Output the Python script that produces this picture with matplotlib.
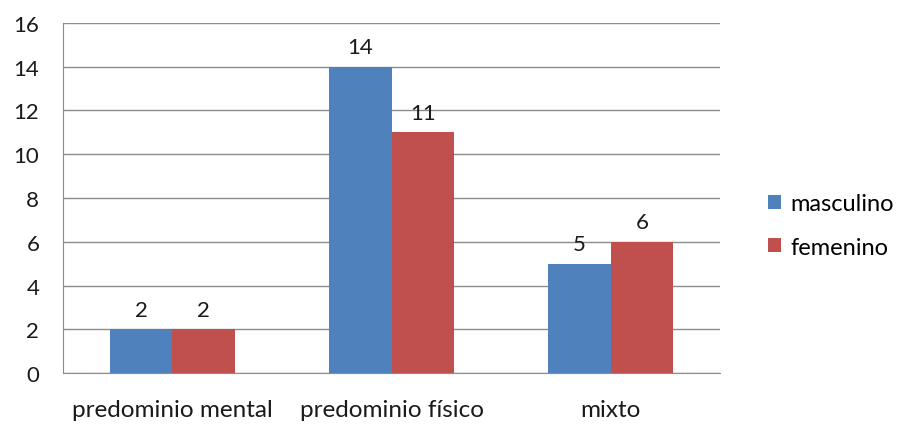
import numpy as np
import matplotlib
matplotlib.use("Agg")
from matplotlib import pyplot as plt

categories = ["predominio mental", "predominio físico", "mixto"]
masculino = [2, 14, 5]
femenino = [2, 11, 6]

plt.rcParams['font.family'] = ['Lato', 'DejaVu Sans']

fig = plt.figure(figsize=(8.99, 4.27), dpi=100)
ax = fig.add_axes([0.070, 0.124, 0.731, 0.820])

x = np.arange(len(categories))
w = 0.286
b1 = ax.bar(x - w / 2, masculino, w, color="#4F81BD", label="masculino", zorder=3)
b2 = ax.bar(x + w / 2, femenino, w, color="#C0504D", label="femenino", zorder=3)

for bars in (b1, b2):
    for rect in bars:
        ax.annotate(f"{rect.get_height():g}",
                    (rect.get_x() + rect.get_width() / 2, rect.get_height()),
                    xytext=(0, 7), textcoords="offset points",
                    ha="center", va="bottom", fontsize=16, color="#1a1a1a")

ax.set_xlim(-0.5, 2.5)
ax.set_ylim(0, 16)
ax.set_yticks(range(0, 17, 2))
ax.set_xticks(x)
ax.set_xticklabels(categories)
ax.grid(axis="y", color="#8c8c8c", linewidth=1, zorder=0)
ax.tick_params(length=0, colors="#1a1a1a")
ax.tick_params(axis="x", pad=19, labelsize=17.5)
ax.tick_params(axis="y", pad=17, labelsize=16)
for side in ("top", "right"):
    ax.spines[side].set_visible(False)
for side in ("left", "bottom"):
    ax.spines[side].set_color("#8c8c8c")

fig.legend(handles=[b1, b2], loc="center left", bbox_to_anchor=(0.831, 0.470),
           frameon=False, fontsize=17, handlelength=0.55, handleheight=0.55,
           handletextpad=0.4, labelspacing=0.95)

plt.savefig("out.png", dpi=100)
plt.close()
